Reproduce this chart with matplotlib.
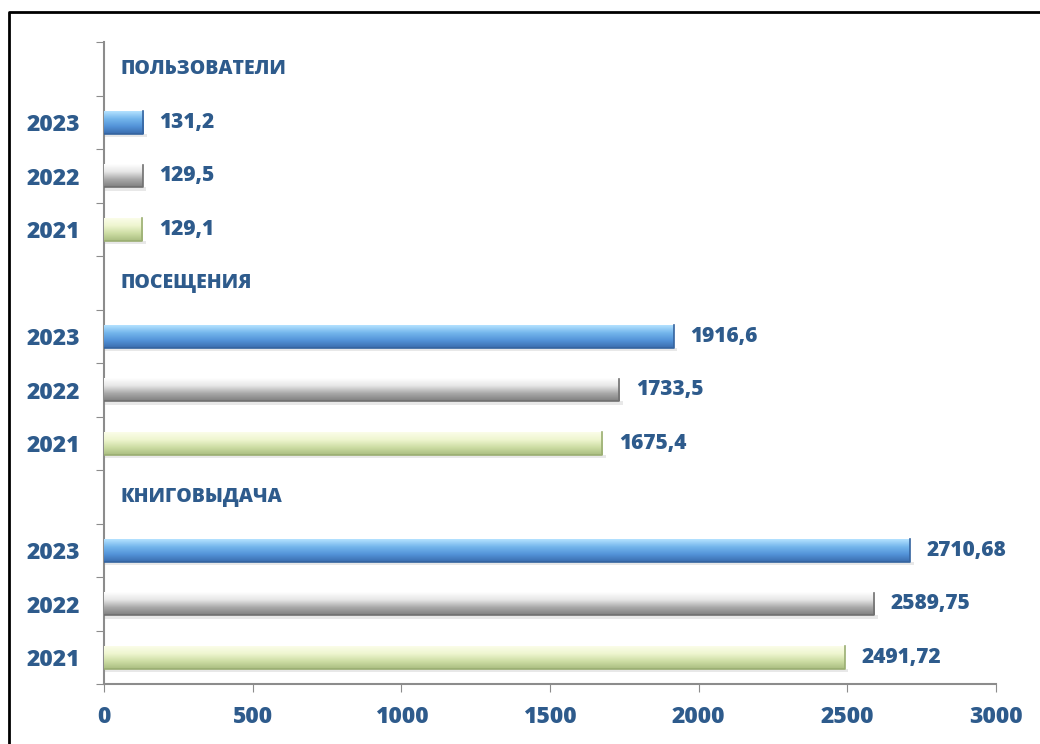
import numpy as np
import matplotlib.pyplot as plt
from matplotlib.colors import LinearSegmentedColormap
from matplotlib.lines import Line2D

plt.rcParams['font.family'] = ['Open Sans', 'DejaVu Sans']

# data
groups = ['КНИГОВЫДАЧА', 'ПОСЕЩЕНИЯ', 'ПОЛЬЗОВАТЕЛИ']
years = ['2021', '2022', '2023']
knigovydacha = [2491.72, 2589.75, 2710.68]
poseshcheniya = [1675.4, 1733.5, 1916.6]
polzovateli = [129.1, 129.5, 131.2]
values = [knigovydacha, poseshcheniya, polzovateli]
x_ticks = [0, 500, 1000, 1500, 2000, 2500, 3000]

txt_color = '#2E5B8C'
fw = 800
# gradients top -> bottom for each year
grads = {
    '2021': ['#fbfde9', '#eef5cf', '#cddda4', '#a9bd80'],
    '2022': ['#ffffff', '#e6e6e6', '#a9a9a9', '#7f7f7f'],
    '2023': ['#b4e2ff', '#74b6ec', '#5393d8', '#3a6cad'],
}
edge = {'2021': '#9aae72', '2022': '#707070', '2023': '#35649f'}

fig = plt.figure(figsize=(10.4, 7.44), dpi=100)
ax = fig.add_axes([0.1, 0.0806, 0.8577, 0.8629])

h = 0.42
for g, vals in enumerate(values):
    for i, v in enumerate(vals):
        y = g * 4 + i
        cmap = LinearSegmentedColormap.from_list('g', grads[years[i]][::-1])
        grad = np.linspace(0, 1, 100).reshape(-1, 1)
        # soft shadow
        ax.fill_between([0, v + 12], y - h / 2 - 0.07, y - h / 2,
                        color='#d9d9d9', alpha=0.6, lw=0, zorder=2)
        ax.imshow(grad, cmap=cmap, origin='lower', aspect='auto',
                  extent=(0, v, y - h / 2, y + h / 2), zorder=3)
        ax.plot([0, v, v], [y - h / 2, y - h / 2, y + h / 2],
                color=edge[years[i]], lw=1.2, zorder=4)
        ax.annotate(str(v).replace('.', ','), (v, y), xytext=(12, 0),
                    textcoords='offset points', va='center', ha='left',
                    fontsize=15, fontweight=fw, color=txt_color)
    ax.text(55, g * 4 + 3, groups[g], va='center', ha='left',
            fontsize=14, fontweight=fw, color=txt_color)

ax.set_xlim(0, 3000)
ax.set_ylim(-0.5, 11.5)

ax.set_xticks(x_ticks)
ax.set_xticklabels([str(t) for t in x_ticks], fontsize=16.5,
                   fontweight=fw, color=txt_color)
ax.tick_params(axis='x', length=6, color='#8c8c8c', pad=9)

ax.set_yticks(np.arange(-0.5, 12, 1))
ax.set_yticklabels([])
ax.tick_params(axis='y', which='major', length=6, color='#8c8c8c')
pos = [g * 4 + i for g in range(3) for i in range(3)]
ax.set_yticks(pos, minor=True)
ax.set_yticklabels(years * 3, minor=True, fontsize=16.5,
                   fontweight=fw, color=txt_color)
ax.tick_params(axis='y', which='minor', length=0, pad=17)

for s in ['top', 'right']:
    ax.spines[s].set_visible(False)
for s in ['left', 'bottom']:
    ax.spines[s].set_color('#8c8c8c')
    ax.spines[s].set_linewidth(1.5)

# outer frame (only left and top visible)
fig.add_artist(Line2D([9 / 1040, 9 / 1040, 1], [0, 1 - 12 / 744, 1 - 12 / 744],
                      transform=fig.transFigure, color='black', lw=2))

fig.savefig('out.png', dpi=100)
